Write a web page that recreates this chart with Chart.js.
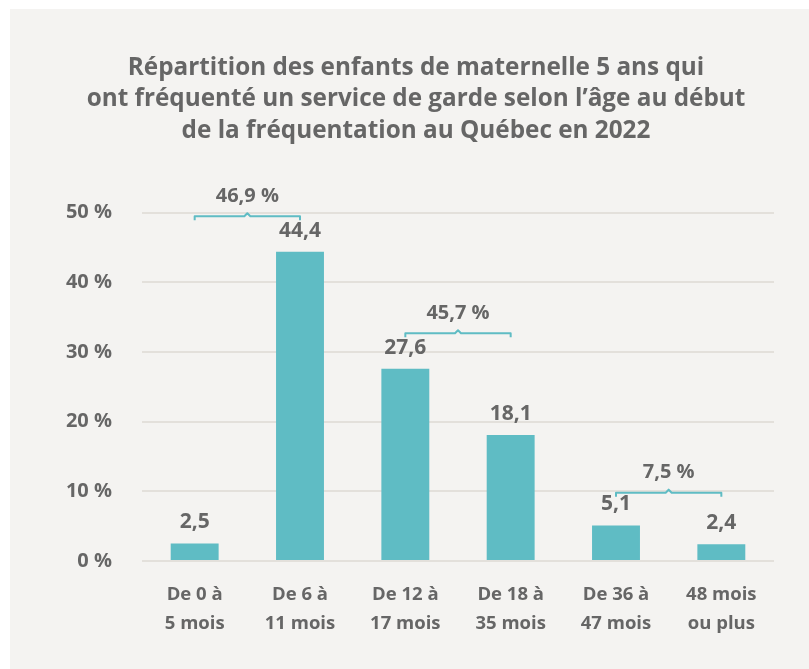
<!DOCTYPE html>
<html lang="fr">
<head>
<meta charset="utf-8">
<title>Répartition des enfants de maternelle 5 ans</title>
<script src="https://cdn.jsdelivr.net/npm/chart.js@4/dist/chart.umd.min.js"></script>
<style>
  html, body { margin: 0; padding: 0; background: #ffffff; }
  #box { position: absolute; left: 10px; top: 9px; width: 799px; height: 660px; background: #f4f3f1; }
</style>
</head>
<body>
<div id="box"><canvas id="chart"></canvas></div>
<script>
const titleLines = [
  "Répartition des enfants de maternelle 5 ans qui",
  "ont fréquenté un service de garde selon l’âge au début",
  "de la fréquentation au Québec en 2022"
];
const categories = [
  ["De 0 à", "5 mois"],
  ["De 6 à", "11 mois"],
  ["De 12 à", "17 mois"],
  ["De 18 à", "35 mois"],
  ["De 36 à", "47 mois"],
  ["48 mois", "ou plus"]
];
const values = [2.5, 44.4, 27.6, 18.1, 5.1, 2.4];

// regroupements (accolades)
const groupFirst = [0, 2, 4];
const groupLast = [1, 3, 5];
const groupTotals = [46.9, 45.7, 7.5];
const groupLevels = [49.5, 32.7, 9.8];

const teal = "#5fbcc4";
const grey = "#666666";
const fontName = "'Open Sans', sans-serif";

const fmt = v => v.toFixed(1).replace(".", ",");

const valueLabels = {
  id: "valueLabels",
  afterDatasetsDraw(chart) {
    const ctx = chart.ctx;
    const meta = chart.getDatasetMeta(0);
    ctx.save();
    ctx.fillStyle = grey;
    ctx.font = "bold 21px " + fontName;
    ctx.textAlign = "center";
    ctx.textBaseline = "middle";
    meta.data.forEach((bar, i) => {
      ctx.fillText(fmt(values[i]), bar.x, bar.y - 21);
    });
    ctx.restore();
  }
};

const brackets = {
  id: "brackets",
  afterDatasetsDraw(chart) {
    const ctx = chart.ctx;
    const meta = chart.getDatasetMeta(0);
    const y = chart.scales.y;
    ctx.save();
    ctx.strokeStyle = teal;
    ctx.lineWidth = 2;
    ctx.lineJoin = "round";
    groupFirst.forEach((a, k) => {
      const x1 = meta.data[a].x;
      const x2 = meta.data[groupLast[k]].x;
      const yy = y.getPixelForValue(groupLevels[k]);
      const mid = (x1 + x2) / 2;
      ctx.beginPath();
      ctx.moveTo(x1, yy + 4);
      ctx.lineTo(x1, yy);
      ctx.lineTo(mid - 3, yy);
      ctx.lineTo(mid, yy - 3);
      ctx.lineTo(mid + 3, yy);
      ctx.lineTo(x2, yy);
      ctx.lineTo(x2, yy + 4);
      ctx.stroke();
      ctx.fillStyle = grey;
      ctx.font = "bold 20px " + fontName;
      ctx.textAlign = "center";
      ctx.textBaseline = "middle";
      ctx.fillText(fmt(groupTotals[k]) + "\u00a0%", mid, yy - 20);
    });
    ctx.restore();
  }
};

new Chart(document.getElementById("chart"), {
  type: "bar",
  data: {
    labels: categories,
    datasets: [{
      data: values,
      backgroundColor: teal,
      barPercentage: 0.455,
      categoryPercentage: 1
    }]
  },
  options: {
    responsive: true,
    maintainAspectRatio: false,
    animation: false,
    layout: { padding: { left: 13, right: 0, top: 0, bottom: 20 } },
    plugins: {
      legend: { display: false },
      tooltip: { enabled: false },
      title: {
        display: true,
        text: titleLines,
        color: grey,
        font: { family: fontName, size: 24.3, weight: "bold", lineHeight: 1.3 },
        padding: { top: 43, bottom: 66 }
      }
    },
    scales: {
      x: {
        grid: { display: false },
        border: { display: false },
        ticks: {
          color: grey,
          padding: 11,
          maxRotation: 0,
          font: { family: fontName, size: 18.5, weight: "bold", lineHeight: 1.57 }
        }
      },
      y: {
        min: 0,
        max: 50,
        border: { display: false },
        grid: { color: "#e3e0db", lineWidth: 2, drawTicks: false },
        afterFit(scale) { scale.width = 119; },
        ticks: {
          stepSize: 10,
          padding: 30,
          color: grey,
          font: { family: fontName, size: 20, weight: "bold" },
          callback: v => v + "\u00a0%"
        }
      },
      y2: {
        position: "right",
        display: true,
        border: { display: false },
        grid: { display: false },
        ticks: { display: false },
        afterFit(scale) { scale.width = 35; }
      }
    }
  },
  plugins: [valueLabels, brackets]
});
</script>
</body>
</html>
